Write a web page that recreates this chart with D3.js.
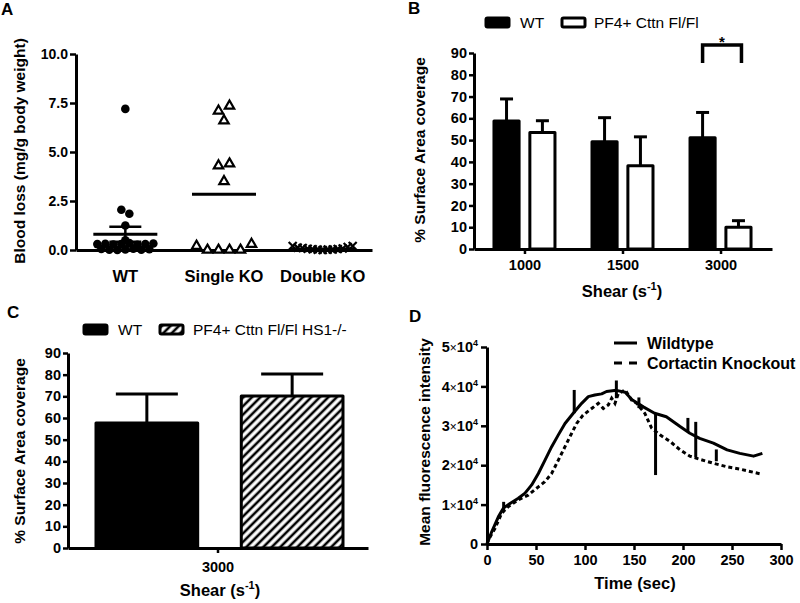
<!DOCTYPE html>
<html><head><meta charset="utf-8">
<script src="https://cdn.jsdelivr.net/npm/d3@7"></script>
<style>
body{margin:0;background:#fff;}
svg{display:block;}
</style></head><body>
<svg id="chart" width="800" height="603"></svg>
<script>
// ---------- DATA ----------
// Panel A: blood loss (mg/g body weight)
const groupsA = ["WT", "Single KO", "Double KO"];
const wtLoss = [7.2, 2.05, 1.85, 1.25, 0.5, 0.3, 0.32, 0.28, 0.3, 0.35, 0.27, 0.3, 0.33, 0.05, 0.02, 0.0, 0.03, 0.06, 0.01, 0.04];
const singleKoLoss = [7.1, 7.35, 6.6, 4.3, 4.4, 3.5, 0.2, 0.0, 0.0, 0.0, 0.0, 0.3];
const doubleKoLoss = [0.2, 0.12, 0.1, 0.06, 0.04, 0.02, 0.0, 0.02, 0.03, 0.05, 0.08, 0.15, 0.2];
const meanLossA = [0.8, 2.85, 0.05];
const semLossA = [0.38, null, null];
const ticksA = [0, 2.5, 5, 7.5, 10];

// Panel B: % surface area coverage
const shearB = ["1000", "1500", "3000"];
const seriesB = ["WT", "PF4+ Cttn Fl/Fl"];
const wtB = [58.8, 49.2, 51.1];
const wtSemB = [10.1, 11.1, 11.6];
const koB = [53.5, 38.2, 10.0];
const koSemB = [5.4, 13.3, 3.0];
const sigB = [{cat: "3000", top: 93.7, leg: 85.4, label: "*"}];
const ticksB = [0, 10, 20, 30, 40, 50, 60, 70, 80, 90];

// Panel C
const shearC = ["3000"];
const seriesC = ["WT", "PF4+ Cttn Fl/Fl HS1-/-"];
const wtC = [57.7];
const wtSemC = [13.4];
const dkoC = [70.2];
const dkoSemC = [10.1];
const ticksC = [0, 10, 20, 30, 40, 50, 60, 70, 80, 90];

// Panel D: mean fluorescence intensity (x10^4) over time (sec)
const seriesD = ["Wildtype", "Cortactin Knockout"];
const timeWT = [0, 4.8, 11.6, 16.7, 23.5, 32, 38.8, 45.6, 52.4, 59.2, 66, 72.8, 79.6, 88, 96.6, 103.4, 110, 117, 122, 132, 141, 148, 159.5, 171, 183, 197, 207, 217, 231, 245, 258, 272, 281];
const fluorWT = [0, 0.31, 0.69, 0.91, 1.03, 1.16, 1.29, 1.50, 1.79, 2.13, 2.47, 2.77, 3.06, 3.32, 3.57, 3.74, 3.78, 3.81, 3.87, 3.90, 3.85, 3.66, 3.48, 3.32, 3.23, 2.98, 2.81, 2.68, 2.56, 2.39, 2.30, 2.23, 2.30];
const timeKO = [0, 1.4, 8.2, 15, 21.8, 32, 42, 52.4, 59, 66, 72.8, 79.6, 86.4, 91.5, 98, 106.8, 113.6, 118.7, 123.8, 127.2, 130.6, 134, 141, 147.6, 152.7, 161, 168, 176.5, 187, 197, 207, 217, 231, 245, 258, 279];
const fluorKO = [0, 0.1, 0.4, 0.78, 0.95, 1.12, 1.24, 1.45, 1.58, 1.79, 2.13, 2.47, 2.81, 3.06, 3.27, 3.44, 3.57, 3.44, 3.53, 3.70, 3.57, 3.82, 3.91, 3.65, 3.57, 3.32, 2.94, 2.77, 2.60, 2.39, 2.23, 2.15, 2.05, 1.96, 1.90, 1.78];
const errTimeD = [17, 89, 132, 155, 172, 205, 213, 234];
const errLowD = [0.86, 3.32, 3.70, 3.45, 1.75, 2.85, 2.20, 2.10];
const errHighD = [1.07, 3.91, 4.15, 3.72, 3.30, 3.20, 3.10, 2.40];
const ticksDy = [0, 1, 2, 3, 4, 5];
const ticksDx = [0, 50, 100, 150, 200, 250, 300];

// ---------- LAYOUT / STYLE ----------
const FONT = '"Liberation Sans", Arial, Helvetica, sans-serif';
const svg = d3.select("#chart").attr("font-family", FONT);
const defs = svg.append("defs");
const pat = defs.append("pattern").attr("id", "hatch").attr("patternUnits", "userSpaceOnUse")
  .attr("width", 6).attr("height", 6).attr("patternTransform", "rotate(45)");
pat.append("rect").attr("width", 6).attr("height", 6).attr("fill", "#fff");
pat.append("line").attr("x1", 3).attr("y1", -1).attr("x2", 3).attr("y2", 7).attr("stroke", "#000").attr("stroke-width", 2.6);

function styleAxis(a, fs) {
  a.attr("font-family", FONT).attr("font-size", fs).attr("font-weight", "bold");
  a.select(".domain").attr("stroke", "#000").attr("stroke-width", 3);
  a.selectAll(".tick line").attr("stroke", "#000").attr("stroke-width", 2.5);
  a.selectAll(".tick text").attr("fill", "#000");
  return a;
}
function yTitle(x, y, txt, fs) {
  svg.append("text").attr("transform", `translate(${x},${y}) rotate(-90)`)
    .attr("text-anchor", "middle").attr("font-weight", "bold").attr("font-size", fs).text(txt);
}
function shearTitle(x, y) {
  const t = svg.append("text").attr("x", x).attr("y", y).attr("text-anchor", "middle")
    .attr("font-weight", "bold").attr("font-size", 16.5);
  t.append("tspan").text("Shear (s");
  t.append("tspan").attr("dy", -7).attr("font-size", 11).text("-1");
  t.append("tspan").attr("dy", 7).text(")");
}
function letter(t, x, y) {
  svg.append("text").attr("x", x).attr("y", y).attr("font-weight", "bold").attr("font-size", 17).text(t);
}
letter("A", 1, 15); letter("B", 408, 14); letter("C", 7, 318); letter("D", 409, 322);

// ---------- PANEL A ----------
(function () {
  const L = {left: 76, right: 372, top: 54, bottom: 250};
  const y = d3.scaleLinear().domain([0, 10]).range([L.bottom, L.top]);
  const x = d3.scaleBand().domain(groupsA).range([L.left, L.right]);
  const g = svg.append("g");
  styleAxis(g.append("g").attr("transform", `translate(${L.left},0)`)
    .call(d3.axisLeft(y).tickValues(ticksA).tickFormat(d3.format(".1f")).tickSize(6).tickSizeOuter(0).tickPadding(2)), 14);
  styleAxis(g.append("g").attr("transform", `translate(0,${L.bottom})`)
    .call(d3.axisBottom(x).tickSize(0).tickSizeOuter(0).tickPadding(20)), 16.5);

  function swarm(values, thr, sp) {
    const idx = values.map((v, i) => i).sort((a, b) => values[a] - values[b]);
    const rows = []; let cur = null;
    idx.forEach(i => {
      if (!cur || Math.abs(y(values[cur[0]]) - y(values[i])) > thr) { cur = [i]; rows.push(cur); }
      else cur.push(i);
    });
    const off = new Array(values.length).fill(0);
    rows.forEach(r => { r.sort((a, b) => a - b); r.forEach((i, k) => off[i] = (k - (r.length - 1) / 2) * sp); });
    return values.map((v, i) => ({v, dx: off[i]}));
  }
  const series = [wtLoss, singleKoLoss, doubleKoLoss];
  const mk = [{thr: 4, sp: 8}, {thr: 8, sp: 11}, {thr: 20, sp: 5}];
  series.forEach((vals, gi) => {
    const cx = x(groupsA[gi]) + x.bandwidth() / 2;
    const pts = swarm(vals, mk[gi].thr, mk[gi].sp);
    const sel = g.append("g").selectAll("path").data(pts).join("path")
      .attr("transform", d => `translate(${cx + d.dx},${y(d.v)})`);
    if (gi === 0) sel.attr("d", d3.symbol(d3.symbolCircle, 58)).attr("fill", "#000");
    else if (gi === 1) sel.attr("d", d3.symbol(d3.symbolTriangle, 38)).attr("fill", "#fff").attr("stroke", "#000").attr("stroke-width", 2.2);
    else sel.attr("d", "M-4,-4L4,4M-4,4L4,-4").attr("fill", "none").attr("stroke", "#000").attr("stroke-width", 2.2);
    const m = meanLossA[gi];
    g.append("line").attr("x1", cx - 32).attr("x2", cx + 32).attr("y1", y(m)).attr("y2", y(m))
      .attr("stroke", "#000").attr("stroke-width", 3);
    const s = semLossA[gi];
    if (s != null) {
      g.append("line").attr("x1", cx).attr("x2", cx).attr("y1", y(m - s)).attr("y2", y(m + s)).attr("stroke", "#000").attr("stroke-width", 2.5);
      [m - s, m + s].forEach(v => g.append("line").attr("x1", cx - 16).attr("x2", cx + 16).attr("y1", y(v)).attr("y2", y(v)).attr("stroke", "#000").attr("stroke-width", 2.5));
    }
  });
  yTitle(25, 151, "Blood loss (mg/g body weight)", 15.5);
})();

// ---------- bar panel helper ----------
function barPanel(L, cats, series, vals, sems, fills, ticks, opts) {
  const y = d3.scaleLinear().domain([0, 90]).range([L.bottom, L.top]);
  const x = d3.scaleBand().domain(cats).range([L.left, L.right]).paddingInner(0).paddingOuter(opts.outer);
  const x1 = d3.scaleBand().domain(series).range(opts.inner).paddingInner(opts.pin);
  const g = svg.append("g");
  series.forEach((s, si) => {
    cats.forEach((c, ci) => {
      const bx = x(c) + x.bandwidth() / 2 + x1(s);
      const bw = x1.bandwidth();
      const v = vals[si][ci], e = sems[si][ci];
      const cx = bx + bw / 2;
      g.append("line").attr("x1", cx).attr("x2", cx).attr("y1", y(v)).attr("y2", y(v + e)).attr("stroke", "#000").attr("stroke-width", 3);
      g.append("line").attr("x1", cx - opts.cap / 2).attr("x2", cx + opts.cap / 2).attr("y1", y(v + e)).attr("y2", y(v + e)).attr("stroke", "#000").attr("stroke-width", 3);
      g.append("rect").attr("x", bx).attr("width", bw).attr("y", y(v)).attr("height", y(0) - y(v))
        .attr("fill", fills[si]).attr("stroke", "#000").attr("stroke-width", 3).attr("stroke-linejoin", "round");
    });
  });
  styleAxis(g.append("g").attr("transform", `translate(${L.left},0)`)
    .call(d3.axisLeft(y).tickValues(ticks).tickSize(5).tickSizeOuter(0).tickPadding(opts.ypad)), 14.5);
  styleAxis(g.append("g").attr("transform", `translate(0,${L.bottom})`)
    .call(d3.axisBottom(x).tickSize(5).tickSizeOuter(0).tickPadding(opts.xpad)), 14.5);
  return {x, x1, y, g};
}

function legendBox(x, y, fill, txt, tx) {
  svg.append("rect").attr("x", x).attr("y", y).attr("width", 23).attr("height", 9).attr("rx", 1.5)
    .attr("fill", fill).attr("stroke", "#000").attr("stroke-width", 3).attr("stroke-linejoin", "round");
  svg.append("text").attr("x", tx).attr("y", y + 10).attr("font-size", 15.5).text(txt);
}

// ---------- PANEL B ----------
(function () {
  const L = {left: 474, right: 772, top: 53, bottom: 249};
  const p = barPanel(L, shearB, seriesB, [wtB, koB], [wtSemB, koSemB], ["#000", "#fff"], ticksB,
    {outer: 0.02, inner: [-31, 30], pin: 0.3, cap: 13, ypad: 2, xpad: 6});
  sigB.forEach(s => {
    const c = p.x(s.cat) + p.x.bandwidth() / 2;
    const xa = c + p.x1(seriesB[0]) + p.x1.bandwidth() / 2;
    const xb = c + p.x1(seriesB[1]) + p.x1.bandwidth() / 2 + 3;
    p.g.append("path").attr("d", `M${xa},${p.y(s.leg)}V${p.y(s.top)}H${xb}V${p.y(s.leg)}`)
      .attr("fill", "none").attr("stroke", "#000").attr("stroke-width", 3.5);
    p.g.append("text").attr("x", (xa + xb) / 2).attr("y", p.y(s.top) + 2).attr("text-anchor", "middle")
      .attr("font-size", 15).attr("font-weight", "bold").text(s.label);
  });
  legendBox(486, 18, "#000", seriesB[0], 520);
  legendBox(562, 18, "#fff", seriesB[1], 594);
  yTitle(425, 150, "% Surface Area coverage", 15.5);
  shearTitle(622, 297);
})();

// ---------- PANEL C ----------
(function () {
  const L = {left: 68, right: 368, top: 353, bottom: 548};
  barPanel(L, shearC, seriesC, [wtC, dkoC], [wtSemC, dkoSemC], ["#000", "url(#hatch)"], ticksC,
    {outer: 0, inner: [-122, 125], pin: 0.3, cap: 62, ypad: 2, xpad: 9});
  legendBox(84, 325, "#000", seriesC[0], 118);
  legendBox(160, 325, "url(#hatch)", seriesC[1], 193);
  yTitle(25, 451, "% Surface Area coverage", 15.5);
  shearTitle(220, 596);
})();

// ---------- PANEL D ----------
(function () {
  const L = {left: 487, right: 781, top: 347, bottom: 544};
  const x = d3.scaleLinear().domain([0, 300]).range([L.left, L.right]);
  const y = d3.scaleLinear().domain([0, 5]).range([L.bottom, L.top]);
  const g = svg.append("g");
  const line = d3.line().x(d => x(d[0])).y(d => y(d[1]));
  const wt = timeWT.map((t, i) => [t, fluorWT[i]]);
  const ko = timeKO.map((t, i) => [t, fluorKO[i]]);
  g.append("path").attr("d", line(ko)).attr("fill", "none").attr("stroke", "#000").attr("stroke-width", 3)
    .attr("stroke-dasharray", "4,3");
  g.append("path").attr("d", line(wt)).attr("fill", "none").attr("stroke", "#000").attr("stroke-width", 3)
    .attr("stroke-linejoin", "round");
  errTimeD.forEach((t, i) => {
    g.append("line").attr("x1", x(t)).attr("x2", x(t)).attr("y1", y(errLowD[i])).attr("y2", y(errHighD[i]))
      .attr("stroke", "#000").attr("stroke-width", 3);
  });
  const ay = styleAxis(g.append("g").attr("transform", `translate(${L.left},0)`)
    .call(d3.axisLeft(y).tickValues(ticksDy).tickSize(6).tickSizeOuter(0).tickPadding(3)), 14.5);
  ay.selectAll(".tick text").each(function (d) {
    const t = d3.select(this); t.text(null);
    if (d === 0) { t.text("0"); return; }
    t.append("tspan").text(d);
    t.append("tspan").attr("font-size", 12).attr("font-weight", "normal").text("\u00d7");
    t.append("tspan").text("10");
    t.append("tspan").attr("font-size", 9).attr("dy", -6).text("4");
  });
  styleAxis(g.append("g").attr("transform", `translate(0,${L.bottom})`)
    .call(d3.axisBottom(x).tickValues(ticksDx).tickSize(6).tickSizeOuter(0).tickPadding(5)), 14.5);
  g.append("line").attr("x1", 614).attr("x2", 637).attr("y1", 343).attr("y2", 343).attr("stroke", "#000").attr("stroke-width", 3);
  g.append("line").attr("x1", 614).attr("x2", 638).attr("y1", 363).attr("y2", 363).attr("stroke", "#000").attr("stroke-width", 3).attr("stroke-dasharray", "8,7");
  g.append("text").attr("x", 647).attr("y", 349).attr("font-size", 16).attr("font-weight", "bold").text(seriesD[0]);
  g.append("text").attr("x", 647).attr("y", 369).attr("font-size", 16).attr("font-weight", "bold").text(seriesD[1]);
  yTitle(430, 442, "Mean fluorescence intensity", 15.5);
  svg.append("text").attr("x", 635).attr("y", 589).attr("text-anchor", "middle").attr("font-weight", "bold").attr("font-size", 16.5).text("Time (sec)");
})();
</script>
</body></html>
